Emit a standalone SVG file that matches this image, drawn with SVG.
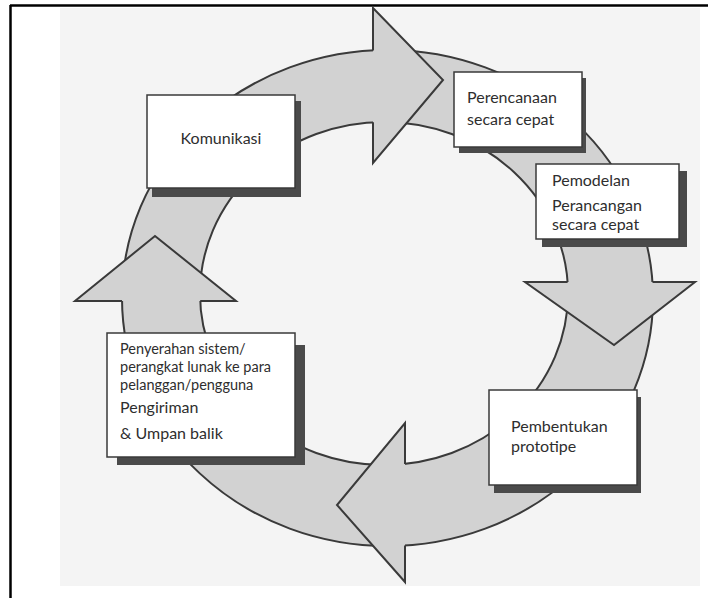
<svg xmlns="http://www.w3.org/2000/svg" width="708" height="598" viewBox="0 0 708 598">
<style>
.ring{fill:#d2d2d2;stroke:none}
.edge{fill:none;stroke:#3a3a3a;stroke-width:2;stroke-linejoin:miter}
.head{fill:#d2d2d2;stroke:none}
.shadow{fill:#4a4a4a}
.box{fill:#ffffff;stroke:#3a3a3a;stroke-width:1.5}
.lbl{font-family:Lato,"Open Sans","Liberation Sans",sans-serif;font-size:16px;fill:#2e2e2e}
.sm{font-size:14.5px}
</style>
<rect x="0" y="0" width="708" height="598" fill="#ffffff"/>
<rect x="60" y="8" width="640" height="578" fill="#f4f4f4"/>
<line x1="10" y1="5.5" x2="708" y2="5.5" stroke="#000" stroke-width="2.5"/>
<line x1="10.5" y1="5" x2="10.5" y2="598" stroke="#000" stroke-width="2.5"/>
<g id="connectors">
  <path class="ring" fill-rule="evenodd" d="M122,298 A265.5,248 0 1,0 653,298 A265.5,248 0 1,0 122,298 Z M200,293.5 A184,171.5 0 1,0 568,293.5 A184,171.5 0 1,0 200,293.5 Z"/>
  <ellipse class="edge" cx="387.5" cy="298" rx="265.5" ry="248"/>
  <ellipse class="edge" cx="384" cy="293.5" rx="184" ry="171.5"/>
  <polygon class="head" points="373,8 443,80 373,163"/>
  <polyline class="edge" points="373,50.4 373,8 443,80 373,163 373,122.3"/>
  <polygon class="head" points="525,282 614,345 695,282"/>
  <polyline class="edge" points="567.6,282 525,282 614,345 695,282 652.5,282"/>
  <polygon class="head" points="405,423 337,505 405,582"/>
  <polyline class="edge" points="405,463.9 405,423 337,505 405,582 405,545.5"/>
  <polygon class="head" points="75,301 155,236 236,301"/>
  <polyline class="edge" points="122,301 75,301 155,236 236,301 200.2,301"/>
</g>
<g id="komunikasi">
  <rect class="shadow" x="152" y="101" width="149" height="96"/>
  <rect class="box" x="147" y="95" width="148" height="93"/>
  <text class="lbl" x="221" y="144" text-anchor="middle">Komunikasi</text>
</g>
<g id="perencanaan">
  <rect class="shadow" x="459" y="78" width="127" height="75"/>
  <rect class="box" x="454" y="72" width="128" height="75"/>
  <text class="lbl" x="467" y="103">Perencanaan</text>
  <text class="lbl" x="467" y="125">secara cepat</text>
</g>
<g id="pemodelan">
  <rect class="shadow" x="542" y="171" width="145" height="76"/>
  <rect class="box" x="536" y="164" width="143" height="75"/>
  <text class="lbl" x="552" y="186">Pemodelan</text>
  <text class="lbl" x="552" y="211">Perancangan</text>
  <text class="lbl" x="552" y="230">secara cepat</text>
</g>
<g id="pembentukan">
  <rect class="shadow" x="494" y="397" width="147" height="96"/>
  <rect class="box" x="489" y="390" width="148" height="95"/>
  <text class="lbl" x="511" y="432">Pembentukan</text>
  <text class="lbl" x="511" y="452">prototipe</text>
</g>
<g id="penyerahan">
  <rect class="shadow" x="117" y="345" width="188" height="120"/>
  <rect class="box" x="107" y="333" width="188" height="124"/>
  <text class="lbl sm" x="120" y="354">Penyerahan sistem/</text>
  <text class="lbl sm" x="120" y="372">perangkat lunak ke para</text>
  <text class="lbl sm" x="120" y="390">pelanggan/pengguna</text>
  <text class="lbl" x="120" y="413">Pengiriman</text>
  <text class="lbl" x="120" y="439">&amp; Umpan balik</text>
</g>
</svg>
